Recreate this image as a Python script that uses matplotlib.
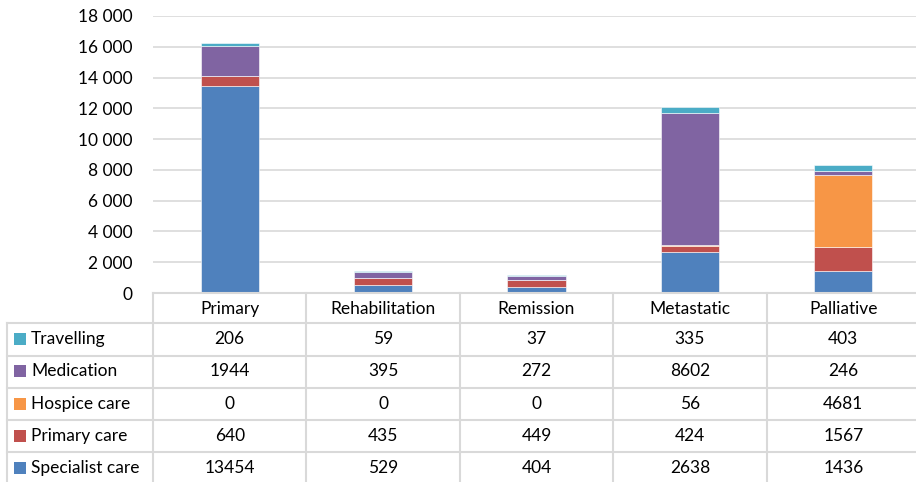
#Loads in necessary python modules.
import matplotlib
matplotlib.use('Agg')
import matplotlib.pyplot as plt
from matplotlib import transforms
from matplotlib.patches import Rectangle
from matplotlib.lines import Line2D

#Categories along the x axis and the series stacked from the base upward.
categories = ['Primary', 'Rehabilitation', 'Remission', 'Metastatic', 'Palliative']
series_names = ['Specialist care', 'Primary care', 'Hospice care', 'Medication', 'Travelling']
specialist_care = [13454, 529, 404, 2638, 1436]
primary_care = [640, 435, 449, 424, 1567]
hospice_care = [0, 0, 0, 56, 4681]
medication = [1944, 395, 272, 8602, 246]
travelling = [206, 59, 37, 335, 403]
series_values = [specialist_care, primary_care, hospice_care, medication, travelling]
colors = ['#4F81BD', '#C0504D', '#F79646', '#8064A2', '#4BACC6']
yticks = [0, 2000, 4000, 6000, 8000, 10000, 12000, 14000, 16000, 18000]

plt.rcParams['font.family'] = ['Lato', 'DejaVu Sans']
FS = 12.5
W, H = 916, 482
grid_col = '#D9D9D9'

fig = plt.figure(figsize=(W / 100, H / 100), dpi=100)
fig.patch.set_facecolor('white')

#Pixel helpers (y measured from the top).
def fx(px):
    return px / W

def fy(py):
    return 1 - py / H

ax_left, ax_right, ax_top, ax_bottom = 153, 920, 16, 293
ax = fig.add_axes([fx(ax_left), fy(ax_bottom), fx(ax_right - ax_left), fy(ax_top) - fy(ax_bottom)])

x = list(range(len(categories)))
bottom = [0] * len(categories)
for vals, col in zip(series_values, colors):
    ax.bar(x, vals, bottom=bottom, width=0.38, color=col, edgecolor='white', linewidth=0.4, zorder=3)
    bottom = [b + v for b, v in zip(bottom, vals)]

ax.set_xlim(-0.5, len(categories) - 0.5)
ax.set_ylim(0, 18000)
ax.set_yticks(yticks)
ax.set_yticklabels(['{:,}'.format(t).replace(',', ' ') for t in yticks], fontsize=FS)
ax.set_xticks([])
ax.tick_params(axis='y', length=0, pad=15)
for s in ax.spines.values():
    s.set_visible(False)
ax.grid(axis='y', color=grid_col, linewidth=1.2, zorder=0)
ax.set_facecolor('none')

#Data table under the chart.
row_lines = [323, 356, 388, 420, 452]
row_centers = [339, 371, 404, 436, 468]
lw = 1.5

def hline(y, x0, x1):
    fig.add_artist(Line2D([fx(x0), fx(x1)], [fy(y), fy(y)], color=grid_col, linewidth=lw))

def vline(xp, y0, y1):
    fig.add_artist(Line2D([fx(xp), fx(xp)], [fy(y0), fy(y1)], color=grid_col, linewidth=lw))

hline(293, ax_left, W)
for y in row_lines:
    hline(y, 7, W)
vline(7, 323, H)
vline(ax_left, 293, H)

blend = transforms.blended_transform_factory(ax.transData, fig.transFigure)
for i in range(1, len(categories)):
    fig.add_artist(Line2D([i - 0.5, i - 0.5], [fy(293), fy(H)], color=grid_col, linewidth=lw, transform=blend))

for i, cat in enumerate(categories):
    fig.text(i, fy(309), cat, transform=blend, ha='center', va='center', fontsize=FS)

table_rows = list(zip(series_names, series_values, colors))[::-1]
for (name, vals, col), yc in zip(table_rows, row_centers):
    fig.add_artist(Rectangle((fx(14), fy(yc + 6)), fx(12), fy(yc - 6) - fy(yc + 6),
                             facecolor=col, edgecolor='none'))
    fig.text(fx(31), fy(yc), name, ha='left', va='center', fontsize=FS)
    for i, v in enumerate(vals):
        fig.text(i, fy(yc), str(v), transform=blend, ha='center', va='center', fontsize=FS)

#Saves plot to output image.
plt.savefig('out.png', dpi=100)
